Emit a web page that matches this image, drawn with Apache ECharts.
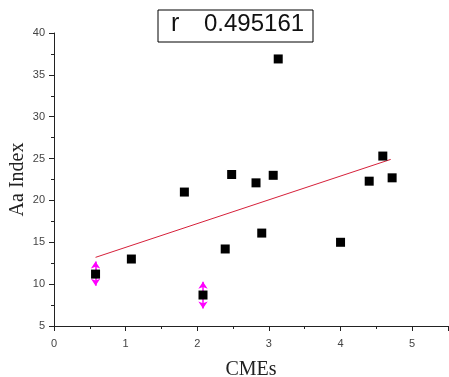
<!DOCTYPE html>
<html><head><meta charset="utf-8">
<script src="https://cdn.jsdelivr.net/npm/echarts@6/dist/echarts.min.js"></script>
<style>html,body{margin:0;padding:0;background:#fff}#c{width:449px;height:377px}</style>
</head><body><div id="c"></div>
<script>
const cmes = [0.58, 1.08, 1.82, 2.08, 2.39, 2.48, 2.82, 2.90, 3.06, 3.13, 4.00, 4.40, 4.59, 4.72];
const aaIndex = [11.2, 13.0, 21.0, 8.7, 14.2, 23.1, 22.1, 16.1, 23.0, 36.9, 15.0, 22.3, 25.3, 22.7];
const errX = [0.58, 2.08];
const errLow = [9.8, 7.1];
const errHigh = [12.7, 10.3];
const fitX = [0.58, 4.70];
const fitY = [13.2, 24.9];
const rLabel = 'r';
const rValue = '0.495161';
const xName = 'CMEs';
const yName = 'Aa Index';

const chart = echarts.init(document.getElementById('c'));
chart.setOption({
  animation: false,
  backgroundColor: '#fff',
  grid: {left: 54, right: 1, top: 33, bottom: 51, containLabel: false, outerBoundsMode: 'none'},
  graphic: [
    {type: 'rect', shape: {x: 158, y: 10, width: 155, height: 32}, style: {fill: '#fff', stroke: '#000', lineWidth: 1}},
    {type: 'text', left: 171, top: 12, style: {text: rLabel, font: '25px Arial, "Liberation Sans", sans-serif', fill: '#111'}},
    {type: 'text', left: 204, top: 12, style: {text: rValue, font: '24px Arial, "Liberation Sans", sans-serif', fill: '#111'}}
  ],
  xAxis: {
    type: 'value', min: 0, max: 5.5, interval: 1,
    name: xName, nameLocation: 'middle', nameGap: 34, nameMoveOverlap: false,
    nameTextStyle: {fontFamily: '"Liberation Serif", "Times New Roman", serif', fontSize: 20, color: '#222'},
    axisLine: {show: true, onZero: false, lineStyle: {color: '#222', width: 1}},
    axisTick: {show: true, length: 5, lineStyle: {color: '#222'}},
    minorTick: {show: true, splitNumber: 2, length: 3, lineStyle: {color: '#222'}},
    axisLabel: {fontFamily: 'Arial, "Liberation Sans", sans-serif', fontSize: 11, color: '#444', margin: 12, showMaxLabel: false},
    splitLine: {show: false}
  },
  yAxis: {
    type: 'value', min: 5, max: 40, interval: 5,
    name: yName, nameLocation: 'middle', nameGap: 26, nameMoveOverlap: false,
    nameTextStyle: {fontFamily: '"Liberation Serif", "Times New Roman", serif', fontSize: 20, color: '#222'},
    axisLine: {show: true, onZero: false, lineStyle: {color: '#222', width: 1}},
    axisTick: {show: true, length: 5, lineStyle: {color: '#222'}},
    minorTick: {show: true, splitNumber: 2, length: 3, lineStyle: {color: '#222'}},
    axisLabel: {fontFamily: 'Arial, "Liberation Sans", sans-serif', fontSize: 11, color: '#444', margin: 9},
    splitLine: {show: false}
  },
  series: [
    {
      type: 'line', data: fitX.map((x, i) => [x, fitY[i]]),
      showSymbol: false, symbol: 'none', lineStyle: {color: '#d6203a', width: 1}, z: 2
    },
    {
      type: 'lines', coordinateSystem: 'cartesian2d', polyline: false,
      data: errX.map((x, i) => ({coords: [[x, errLow[i]], [x, errHigh[i]]]})),
      symbol: ['arrow', 'arrow'], symbolSize: 7,
      lineStyle: {color: '#ff00ff', width: 1.5, opacity: 1}, z: 3
    },
    {
      type: 'scatter', data: cmes.map((x, i) => [x, aaIndex[i]]),
      symbol: 'rect', symbolSize: 9, itemStyle: {color: '#000', opacity: 1}, z: 4
    }
  ]
});
</script></body></html>
